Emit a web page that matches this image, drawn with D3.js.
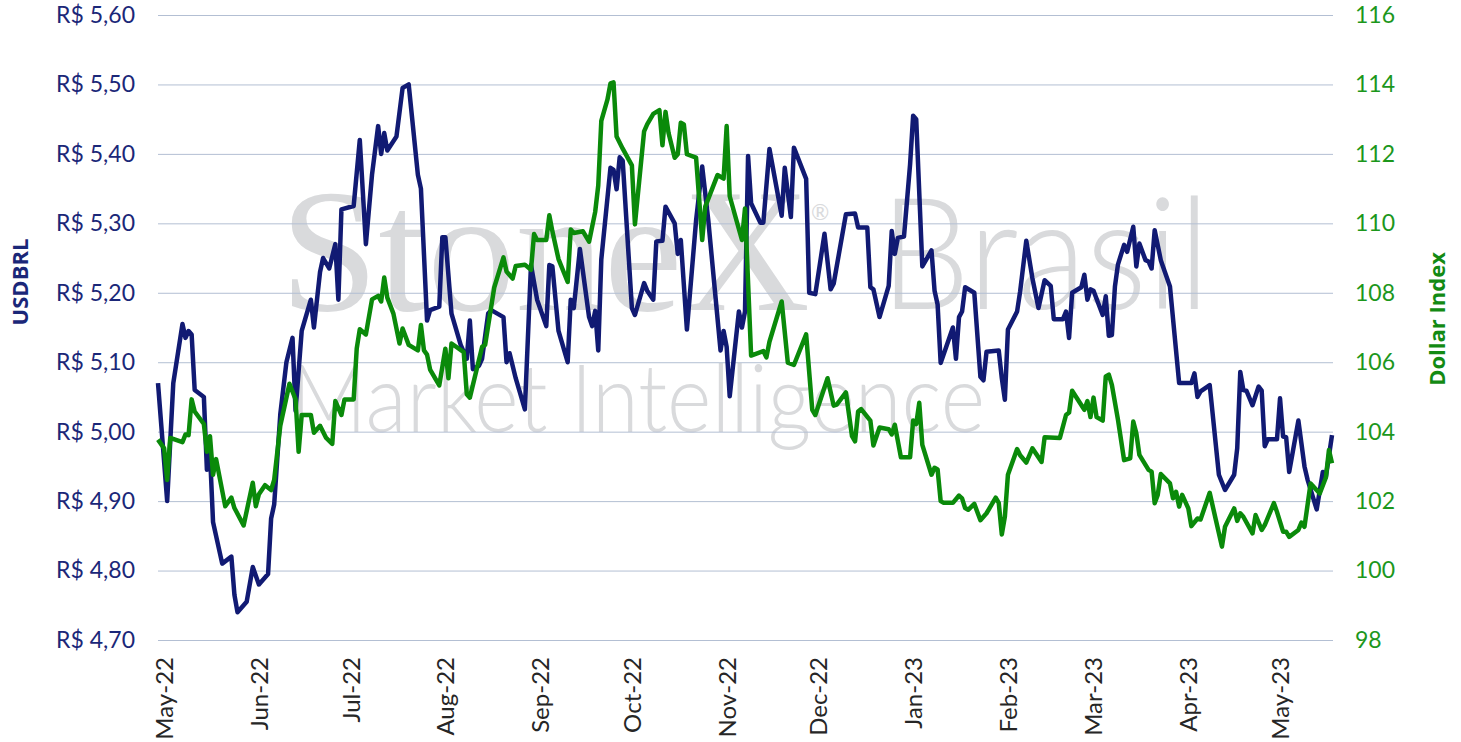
<!DOCTYPE html>
<html>
<head>
<meta charset="utf-8">
<script src="https://cdn.jsdelivr.net/npm/d3@7"></script>
<style>
  body { margin: 0; background: #fff; }
  svg { display: block; font-family: Lato, "Open Sans", sans-serif; }
</style>
</head>
<body>
<div id="plot"></div>
<script>
// USDBRL (left axis)
const usdDates = [
  "2022-04-29","2022-05-02","2022-05-04","2022-05-07","2022-05-08","2022-05-09","2022-05-10","2022-05-11",
  "2022-05-14","2022-05-15","2022-05-16","2022-05-17","2022-05-20","2022-05-23","2022-05-24","2022-05-25",
  "2022-05-28","2022-05-30","2022-06-01","2022-06-04","2022-06-05","2022-06-06","2022-06-08","2022-06-10",
  "2022-06-12","2022-06-13","2022-06-15","2022-06-18","2022-06-19","2022-06-21","2022-06-22","2022-06-24",
  "2022-06-26","2022-06-27","2022-06-28","2022-07-02","2022-07-04","2022-07-06","2022-07-08","2022-07-10",
  "2022-07-11","2022-07-12","2022-07-13","2022-07-16","2022-07-18","2022-07-20","2022-07-23","2022-07-24",
  "2022-07-26","2022-07-27","2022-07-30","2022-07-31","2022-08-01","2022-08-03","2022-08-06","2022-08-08",
  "2022-08-09","2022-08-10","2022-08-12","2022-08-13","2022-08-15","2022-08-16","2022-08-20","2022-08-21",
  "2022-08-22","2022-08-24","2022-08-27","2022-08-29","2022-08-31","2022-09-03","2022-09-04","2022-09-05",
  "2022-09-07","2022-09-10","2022-09-11","2022-09-12","2022-09-14","2022-09-17","2022-09-18","2022-09-19",
  "2022-09-20","2022-09-21","2022-09-24","2022-09-25","2022-09-26","2022-09-27","2022-09-28","2022-10-01",
  "2022-10-02","2022-10-05","2022-10-06","2022-10-08","2022-10-09","2022-10-11","2022-10-12","2022-10-15",
  "2022-10-16","2022-10-17","2022-10-19","2022-10-22","2022-10-24","2022-10-26","2022-10-30","2022-10-31",
  "2022-11-01","2022-11-02","2022-11-05","2022-11-06","2022-11-07","2022-11-08","2022-11-09","2022-11-12",
  "2022-11-13","2022-11-15","2022-11-19","2022-11-20","2022-11-22","2022-11-23","2022-11-27","2022-11-28",
  "2022-11-30","2022-12-03","2022-12-05","2022-12-06","2022-12-10","2022-12-13","2022-12-14","2022-12-17",
  "2022-12-18","2022-12-19","2022-12-21","2022-12-24","2022-12-25","2022-12-26","2022-12-27","2022-12-29",
  "2022-12-31","2023-01-01","2023-01-02","2023-01-04","2023-01-07","2023-01-08","2023-01-09","2023-01-10",
  "2023-01-14","2023-01-15","2023-01-16","2023-01-17","2023-01-18","2023-01-21","2023-01-23","2023-01-24",
  "2023-01-25","2023-01-29","2023-01-30","2023-01-31","2023-02-01","2023-02-04","2023-02-05","2023-02-07",
  "2023-02-09","2023-02-11","2023-02-13","2023-02-15","2023-02-16","2023-02-19","2023-02-20","2023-02-21",
  "2023-02-22","2023-02-25","2023-02-26","2023-02-27","2023-02-28","2023-03-01","2023-03-04","2023-03-05",
  "2023-03-06","2023-03-07","2023-03-08","2023-03-09","2023-03-11","2023-03-12","2023-03-14","2023-03-15",
  "2023-03-16","2023-03-18","2023-03-19","2023-03-20","2023-03-21","2023-03-23","2023-03-26","2023-03-29",
  "2023-04-02","2023-04-03","2023-04-04","2023-04-05","2023-04-08","2023-04-11","2023-04-13","2023-04-16",
  "2023-04-17","2023-04-18","2023-04-19","2023-04-20","2023-04-22","2023-04-24","2023-04-25","2023-04-26",
  "2023-04-27","2023-04-30","2023-05-01","2023-05-02","2023-05-03","2023-05-04","2023-05-07","2023-05-09",
  "2023-05-10","2023-05-13","2023-05-15","2023-05-16","2023-05-18"
];
const usdValues = [
  5.07, 4.90, 5.07, 5.155, 5.135, 5.145, 5.14, 5.06,
  5.05, 4.945, 4.97, 4.87, 4.81, 4.82, 4.765, 4.74,
  4.755, 4.805, 4.78, 4.795, 4.875, 4.895, 5.025, 5.10,
  5.135, 5.03, 5.145, 5.19, 5.15, 5.23, 5.25, 5.235,
  5.27, 5.19, 5.32, 5.325, 5.42, 5.27, 5.37, 5.44,
  5.40, 5.43, 5.405, 5.425, 5.495, 5.50, 5.37, 5.35,
  5.16, 5.175, 5.18, 5.28, 5.28, 5.17, 5.125, 5.105,
  5.16, 5.09, 5.095, 5.105, 5.17, 5.175, 5.165, 5.10,
  5.113, 5.077, 5.032, 5.24, 5.19, 5.152, 5.24, 5.238,
  5.145, 5.10, 5.19, 5.178, 5.263, 5.165, 5.152, 5.174,
  5.117, 5.248, 5.38, 5.377, 5.349, 5.395, 5.39, 5.178,
  5.168, 5.214, 5.203, 5.19, 5.274, 5.275, 5.324, 5.30,
  5.256, 5.276, 5.147, 5.304, 5.382, 5.304, 5.117, 5.145,
  5.122, 5.051, 5.173, 5.15, 5.173, 5.397, 5.329, 5.301,
  5.301, 5.407, 5.311, 5.38, 5.309, 5.409, 5.364, 5.20,
  5.198, 5.285, 5.205, 5.213, 5.313, 5.314, 5.294, 5.294,
  5.208, 5.205, 5.165, 5.21, 5.289, 5.256, 5.279, 5.281,
  5.385, 5.455, 5.45, 5.238, 5.261, 5.203, 5.183, 5.099,
  5.15, 5.105, 5.165, 5.173, 5.208, 5.20, 5.079, 5.074,
  5.115, 5.117, 5.077, 5.046, 5.147, 5.173, 5.202, 5.275,
  5.221, 5.178, 5.218, 5.21, 5.162, 5.162, 5.173, 5.135,
  5.20, 5.208, 5.226, 5.19, 5.205, 5.203, 5.168, 5.195,
  5.138, 5.139, 5.209, 5.241, 5.269, 5.259, 5.295, 5.238,
  5.271, 5.247, 5.245, 5.235, 5.29, 5.247, 5.209, 5.07,
  5.07, 5.084, 5.05, 5.058, 5.067, 4.938, 4.916, 4.938,
  4.976, 5.086, 5.06, 5.059, 5.038, 5.065, 5.059, 4.979,
  4.989, 4.989, 5.048, 4.993, 4.992, 4.942, 5.016, 4.95,
  4.931, 4.888, 4.942, 4.935, 4.995
];

// Dollar Index (right axis)
const dxyDates = [
  "2022-04-29","2022-05-01","2022-05-02","2022-05-03","2022-05-07","2022-05-08","2022-05-09","2022-05-10",
  "2022-05-11","2022-05-14","2022-05-15","2022-05-16","2022-05-17","2022-05-18","2022-05-21","2022-05-23",
  "2022-05-24","2022-05-27","2022-05-30","2022-05-31","2022-06-01","2022-06-03","2022-06-05","2022-06-06",
  "2022-06-08","2022-06-11","2022-06-13","2022-06-14","2022-06-15","2022-06-18","2022-06-19","2022-06-21",
  "2022-06-23","2022-06-25","2022-06-26","2022-06-28","2022-06-29","2022-07-02","2022-07-03","2022-07-04",
  "2022-07-06","2022-07-08","2022-07-10","2022-07-11","2022-07-12","2022-07-13","2022-07-15","2022-07-17",
  "2022-07-18","2022-07-20","2022-07-23","2022-07-24","2022-07-25","2022-07-26","2022-07-27","2022-07-30",
  "2022-08-01","2022-08-02","2022-08-03","2022-08-07","2022-08-08","2022-08-09","2022-08-13","2022-08-14",
  "2022-08-17","2022-08-20","2022-08-21","2022-08-23","2022-08-24","2022-08-27","2022-08-29","2022-08-30",
  "2022-08-31","2022-09-03","2022-09-04","2022-09-05","2022-09-07","2022-09-10","2022-09-11","2022-09-12",
  "2022-09-15","2022-09-17","2022-09-19","2022-09-20","2022-09-21","2022-09-23","2022-09-24","2022-09-25",
  "2022-09-26","2022-09-28","2022-10-01","2022-10-02","2022-10-05","2022-10-06","2022-10-08","2022-10-10",
  "2022-10-11","2022-10-12","2022-10-13","2022-10-15","2022-10-16","2022-10-17","2022-10-18","2022-10-19",
  "2022-10-22","2022-10-24","2022-10-25","2022-10-29","2022-10-30","2022-10-31","2022-11-01","2022-11-02",
  "2022-11-06","2022-11-07","2022-11-09","2022-11-13","2022-11-14","2022-11-15","2022-11-19","2022-11-21",
  "2022-11-23","2022-11-27","2022-11-29","2022-11-30","2022-12-04","2022-12-06","2022-12-07","2022-12-10",
  "2022-12-12","2022-12-13","2022-12-14","2022-12-15","2022-12-18","2022-12-19","2022-12-21","2022-12-24",
  "2022-12-25","2022-12-26","2022-12-28","2022-12-31","2023-01-01","2023-01-02","2023-01-03","2023-01-04",
  "2023-01-07","2023-01-08","2023-01-09","2023-01-10","2023-01-11","2023-01-14","2023-01-16","2023-01-17",
  "2023-01-18","2023-01-19","2023-01-21","2023-01-23","2023-01-25","2023-01-28","2023-01-29","2023-01-30",
  "2023-01-31","2023-02-01","2023-02-04","2023-02-05","2023-02-07","2023-02-09","2023-02-12","2023-02-13",
  "2023-02-18","2023-02-20","2023-02-21","2023-02-22","2023-02-26","2023-02-27","2023-02-28","2023-03-01",
  "2023-03-02","2023-03-04","2023-03-05","2023-03-06","2023-03-07","2023-03-09","2023-03-11","2023-03-13",
  "2023-03-14","2023-03-15","2023-03-16","2023-03-19","2023-03-20","2023-03-21","2023-03-22","2023-03-23",
  "2023-03-26","2023-03-27","2023-03-28","2023-03-29","2023-03-30","2023-04-01","2023-04-02","2023-04-04",
  "2023-04-05","2023-04-08","2023-04-10","2023-04-12","2023-04-13","2023-04-16","2023-04-17","2023-04-18",
  "2023-04-19","2023-04-22","2023-04-23","2023-04-25","2023-04-26","2023-04-29","2023-04-30","2023-05-02",
  "2023-05-03","2023-05-04","2023-05-07","2023-05-08","2023-05-09","2023-05-11","2023-05-14","2023-05-16",
  "2023-05-17","2023-05-18"
];
const dxyValues = [
  103.77, 103.52, 102.61, 103.82, 103.70, 103.92, 103.90, 104.93,
  104.58, 104.22, 103.42, 103.87, 102.76, 103.21, 101.85, 102.10,
  101.80, 101.30, 102.53, 101.85, 102.20, 102.46, 102.32, 102.61,
  104.17, 105.38, 104.93, 103.42, 104.48, 104.48, 103.97, 104.17,
  103.82, 103.65, 104.88, 104.48, 104.93, 104.93, 106.39, 106.95,
  106.80, 107.81, 107.91, 107.75, 108.44, 107.86, 107.40, 106.54,
  106.97, 106.50, 106.34, 107.07, 106.34, 106.22, 105.79, 105.33,
  106.39, 105.54, 106.54, 106.29, 105.08, 104.98, 106.44, 106.50,
  108.16, 109.02, 108.61, 108.41, 108.77, 108.81, 108.66, 109.69,
  109.52, 109.52, 110.23, 109.77, 108.97, 108.31, 109.82, 109.72,
  109.77, 109.47, 110.33, 111.09, 112.95, 113.56, 114.03, 114.06,
  112.50, 112.15, 111.67, 109.97, 112.65, 112.85, 113.15, 113.26,
  112.25, 113.21, 112.60, 111.89, 111.99, 112.90, 112.85, 111.99,
  111.89, 109.52, 110.48, 111.39, 111.34, 111.29, 112.80, 110.78,
  109.52, 110.43, 106.19, 106.32, 106.14, 106.59, 107.75, 105.99,
  105.92, 106.80, 104.63, 104.48, 105.54, 104.75, 104.78, 105.13,
  103.87, 103.72, 104.58, 104.65, 104.32, 103.60, 104.12, 104.07,
  103.92, 104.20, 103.26, 103.26, 104.32, 104.22, 104.83, 103.62,
  102.76, 102.96, 102.91, 102.00, 101.95, 101.95, 102.16, 102.08,
  101.80, 101.75, 101.92, 101.45, 101.65, 102.10, 101.95, 101.04,
  101.55, 102.76, 103.50, 103.32, 103.11, 103.52, 103.13, 103.84,
  103.82, 104.48, 104.55, 105.18, 104.63, 104.88, 104.42, 104.98,
  104.42, 104.32, 105.59, 105.64, 105.35, 104.34, 103.18, 103.23,
  104.29, 103.95, 103.33, 102.90, 102.85, 101.94, 102.18, 102.78,
  102.51, 102.08, 102.27, 101.84, 102.18, 101.79, 101.28, 101.50,
  101.47, 102.24, 101.46, 100.69, 101.26, 101.79, 101.43, 101.65,
  101.55, 101.07, 101.60, 101.17, 101.31, 101.94, 101.69, 101.12,
  101.12, 100.97, 101.17, 101.38, 101.26, 102.51, 102.22, 102.68,
  103.47, 103.09
];

const leftTicks = [4.7, 4.8, 4.9, 5.0, 5.1, 5.2, 5.3, 5.4, 5.5, 5.6];
const rightTicks = [98, 100, 102, 104, 106, 108, 110, 112, 114, 116];

let width = 1461,
    height = 742;
let margin = { top: 15, bottom: 102, left: 158, right: 128 };

const parse = d3.timeParse("%Y-%m-%d");
const usd = usdDates.map((d, i) => ({ date: parse(d), value: usdValues[i] }));
const dxy = dxyDates.map((d, i) => ({ date: parse(d), value: dxyValues[i] }));

let svg = d3.select('#plot')
  .append('svg')
    .attr('width', width)
    .attr('height', height);

let xScale = d3.scaleTime()
  .domain([usd[0].date, usd[usd.length - 1].date])
  .range([margin.left, width - margin.right - 1]);

let yLeft = d3.scaleLinear()
  .domain([4.7, 5.6])
  .range([height - margin.bottom, margin.top]);

let yRight = d3.scaleLinear()
  .domain([98, 116])
  .range([height - margin.bottom, margin.top]);

// watermark
let wm = svg.append('g').attr('fill', '#d9dadc');
wm.append('text')
  .attr('x', 280).attr('y', 310)
  .attr('font-family', '"Liberation Serif", "DejaVu Serif", serif')
  .attr('font-size', 176)
  .attr('textLength', 530).attr('lengthAdjust', 'spacingAndGlyphs')
  .text('StoneX');
wm.append('text')
  .attr('x', 811).attr('y', 220)
  .attr('font-size', 22)
  .text('®');
wm.append('text')
  .attr('x', 880).attr('y', 309)
  .attr('font-weight', 300)
  .attr('font-size', 156)
  .attr('textLength', 330).attr('lengthAdjust', 'spacingAndGlyphs')
  .text('Brasil');
wm.append('text')
  .attr('x', 290).attr('y', 432)
  .attr('font-weight', 300)
  .attr('font-size', 94)
  .attr('textLength', 695).attr('lengthAdjust', 'spacingAndGlyphs')
  .text('Market Intelligence');

// gridlines
svg.append('g')
  .attr('transform', `translate(${margin.left},0)`)
  .call(d3.axisLeft(yLeft).tickValues(leftTicks).tickSize(-(width - margin.left - margin.right)).tickFormat(''))
  .call(g => g.select('.domain').remove())
  .call(g => g.selectAll('line').attr('stroke', '#b3bfd3').attr('stroke-width', 1));

const fmt = d3.format('.2f');

// left axis
svg.append('g')
  .attr('transform', `translate(${margin.left},0)`)
  .call(d3.axisLeft(yLeft).tickValues(leftTicks).tickSize(0).tickPadding(23)
    .tickFormat(d => 'R$ ' + fmt(d).replace('.', ',')))
  .call(g => g.select('.domain').remove())
  .call(g => g.selectAll('text')
    .attr('fill', '#1b2778')
    .attr('font-size', 23)
    .attr('font-family', 'Lato, sans-serif'));

// right axis
svg.append('g')
  .attr('transform', `translate(${width - margin.right},0)`)
  .call(d3.axisRight(yRight).tickValues(rightTicks).tickSize(0).tickPadding(22))
  .call(g => g.select('.domain').remove())
  .call(g => g.selectAll('text')
    .attr('fill', '#1c971c')
    .attr('font-size', 23)
    .attr('font-family', 'Lato, sans-serif'));

// x axis
svg.append('g')
  .attr('transform', `translate(0,${height - margin.bottom})`)
  .call(d3.axisBottom(xScale)
    .tickValues(d3.timeMonth.range(new Date(2022, 4, 1), new Date(2023, 4, 2)))
    .tickSize(0)
    .tickFormat(d3.timeFormat('%b-%y')))
  .call(g => g.select('.domain').remove())
  .call(g => g.selectAll('text')
    .attr('transform', 'rotate(-90)')
    .attr('x', -17)
    .attr('y', 0)
    .attr('dy', '0.35em')
    .style('text-anchor', 'end')
    .attr('fill', '#262626')
    .attr('font-size', 24)
    .attr('font-family', 'Lato, sans-serif'));

// axis titles
svg.append('text')
  .attr('transform', 'translate(20,282) rotate(-90)')
  .attr('text-anchor', 'middle')
  .attr('dy', '0.35em')
  .attr('font-family', '"Open Sans", sans-serif')
  .attr('font-weight', 'bold')
  .attr('font-size', 22)
  .attr('fill', '#1b2778')
  .text('USDBRL');

svg.append('text')
  .attr('transform', 'translate(1437,319) rotate(-90)')
  .attr('text-anchor', 'middle')
  .attr('dy', '0.35em')
  .attr('font-family', '"Open Sans", sans-serif')
  .attr('font-weight', 'bold')
  .attr('font-size', 22)
  .attr('fill', '#138a13')
  .text('Dollar Index');

// lines
let usdLine = d3.line()
  .x(d => xScale(d.date))
  .y(d => yLeft(d.value));

let dxyLine = d3.line()
  .x(d => xScale(d.date))
  .y(d => yRight(d.value));

svg.append('path')
  .datum(usd)
  .attr('d', usdLine)
  .attr('fill', 'none')
  .attr('stroke', '#111a73')
  .attr('stroke-width', 4.5)
  .attr('stroke-linejoin', 'round');

svg.append('path')
  .datum(dxy)
  .attr('d', dxyLine)
  .attr('fill', 'none')
  .attr('stroke', '#0a8a0a')
  .attr('stroke-width', 4.5)
  .attr('stroke-linejoin', 'round');
</script>
</body>
</html>
